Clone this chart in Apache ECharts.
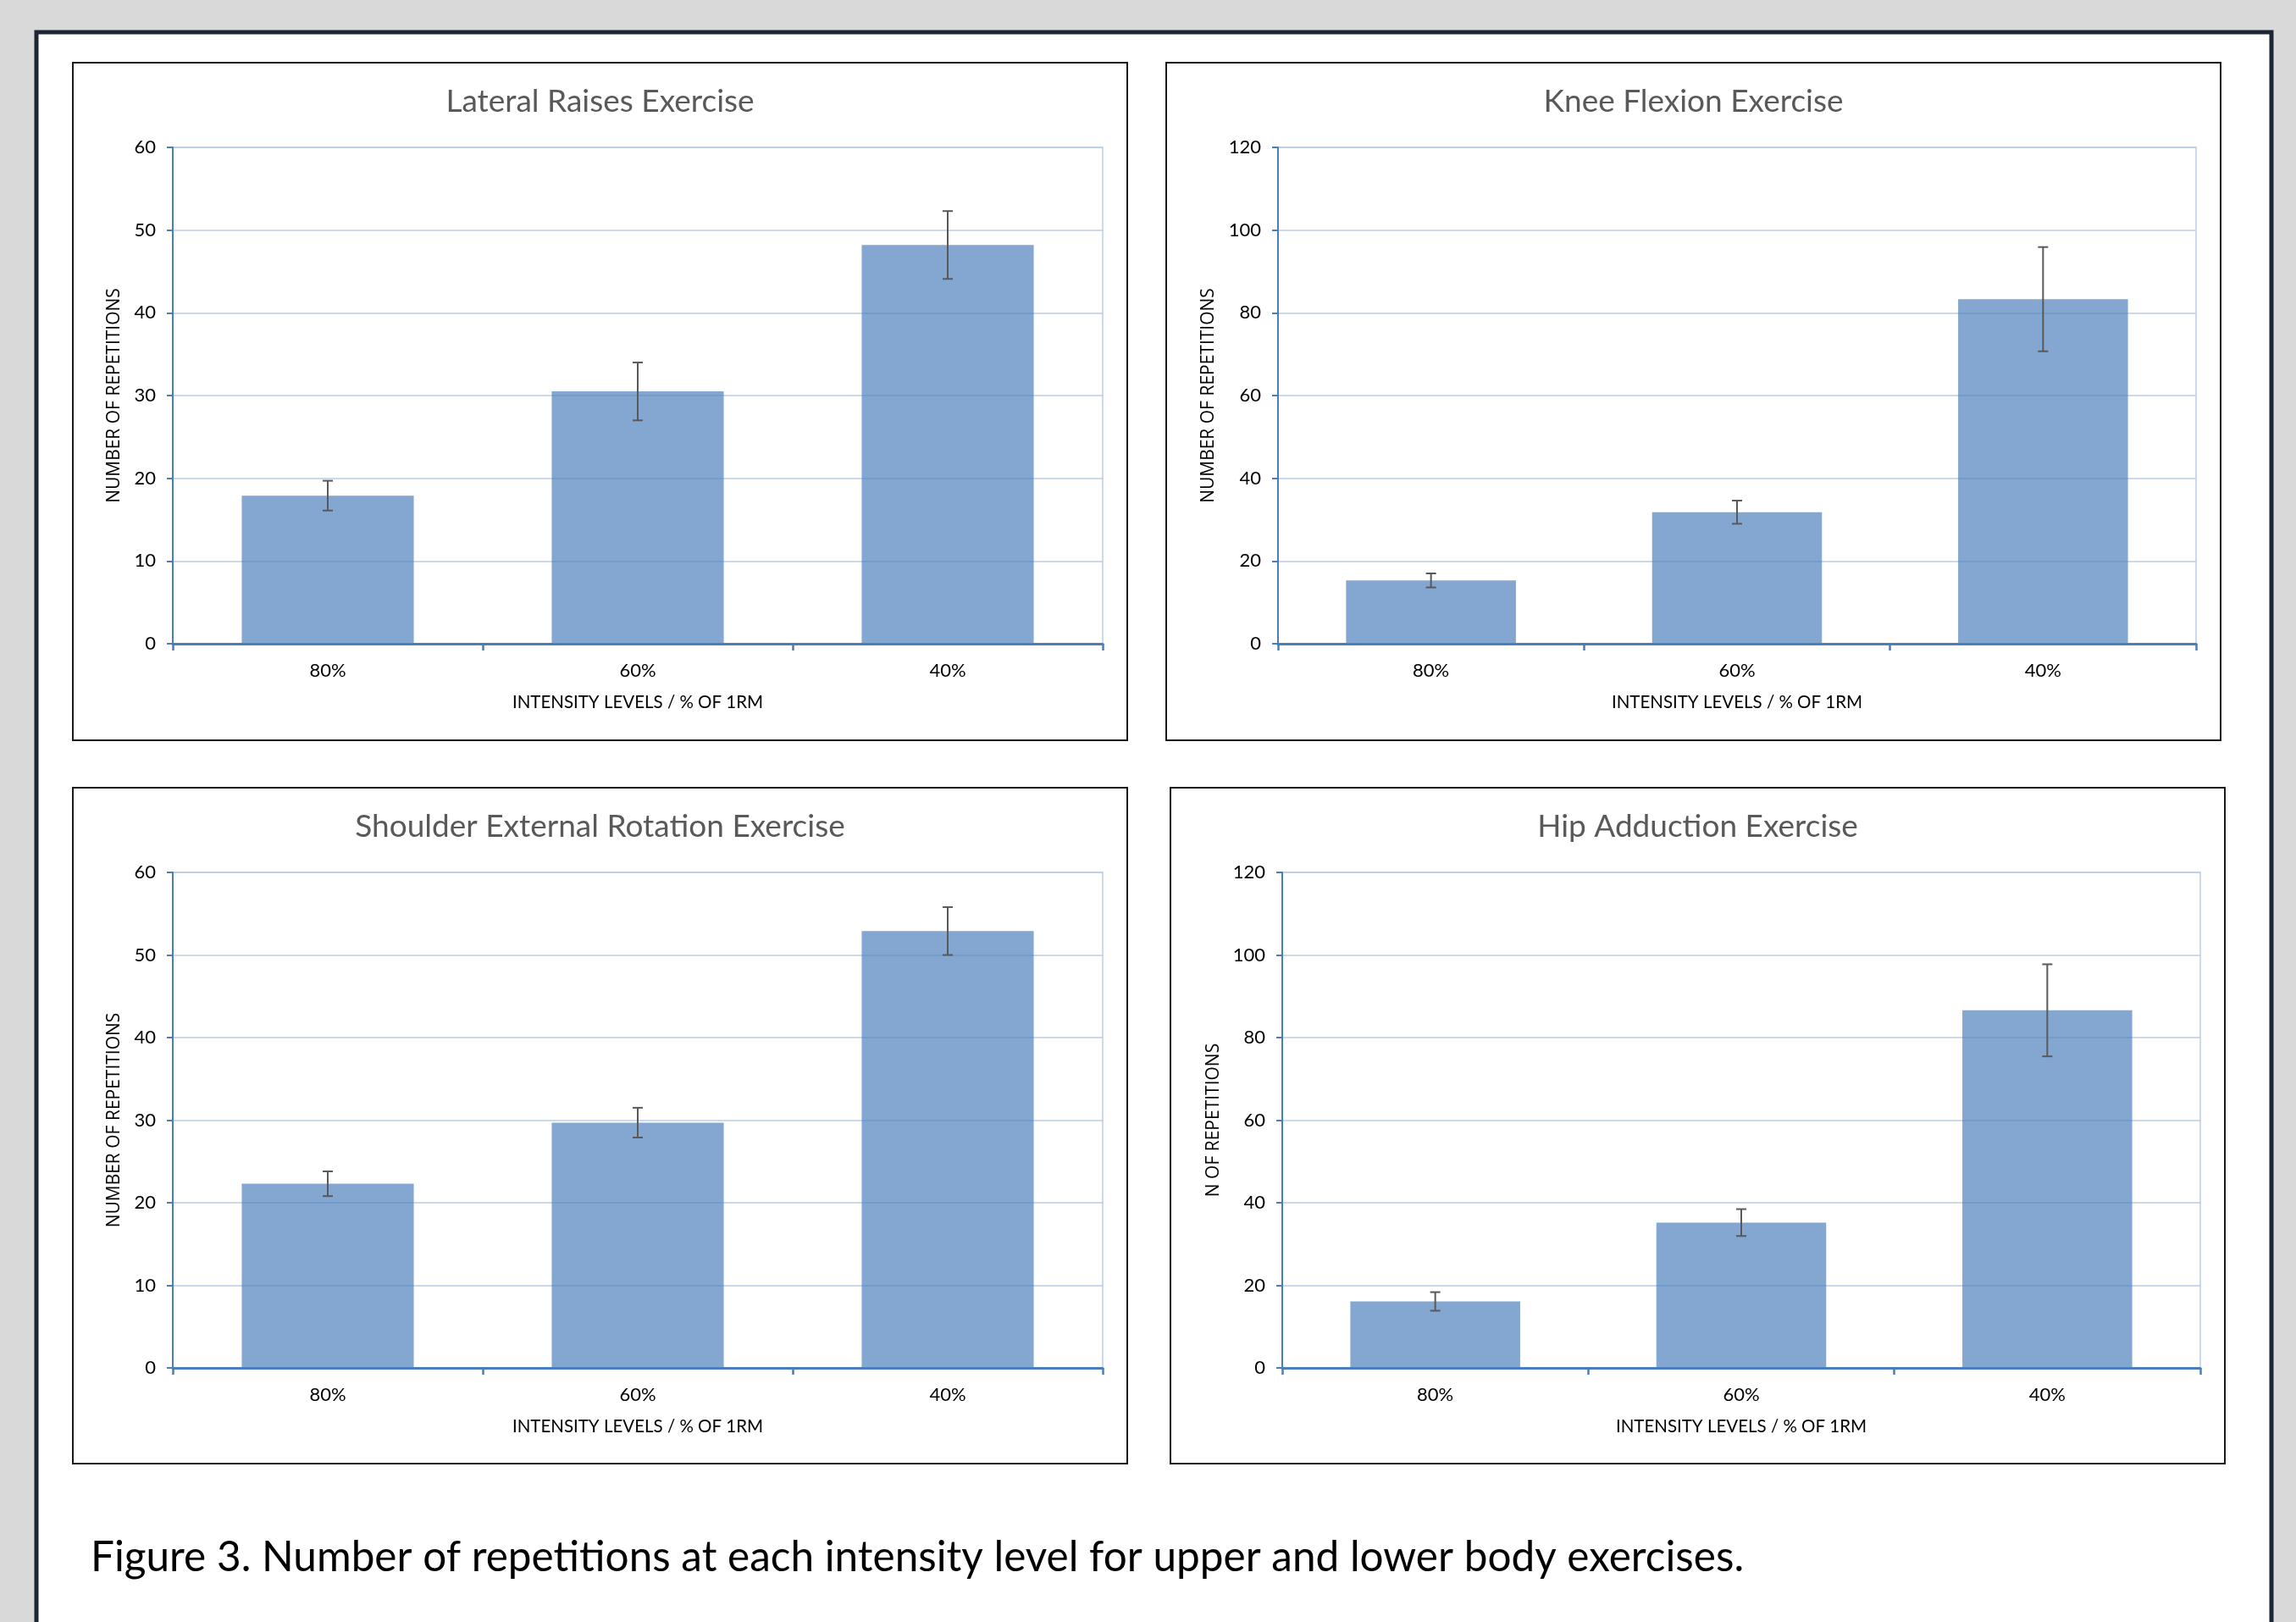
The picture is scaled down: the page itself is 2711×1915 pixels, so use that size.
<!DOCTYPE html>
<html>
<head>
<meta charset="utf-8">
<script src="https://cdn.jsdelivr.net/npm/echarts@6/dist/echarts.min.js"></script>
<style>
html,body{margin:0;padding:0;background:#d9d9d9;}
#c{width:2711px;height:1915px;}
</style>
</head>
<body>
<div id="c"></div>
<script>
// ---- data ----
const categories = ['80%', '60%', '40%'];
const titles = ['Lateral Raises Exercise', 'Knee Flexion Exercise', 'Shoulder External Rotation Exercise', 'Hip Adduction Exercise'];
const yNames = ['NUMBER OF REPETITIONS', 'NUMBER OF REPETITIONS', 'NUMBER OF REPETITIONS', 'N OF REPETITIONS'];
const xName = 'INTENSITY LEVELS / % OF 1RM';
const lateralMeans = [17.9, 30.5, 48.2];
const lateralErr = [1.8, 3.5, 4.1];
const kneeMeans = [15.3, 31.8, 83.3];
const kneeErr = [1.7, 2.8, 12.6];
const shoulderMeans = [22.3, 29.7, 52.9];
const shoulderErr = [1.5, 1.8, 2.9];
const hipMeans = [16.1, 35.2, 86.6];
const hipErr = [2.25, 3.25, 11.15];
const yMaxes = [60, 120, 60, 120];
const yIntervals = [10, 20, 10, 20];
const caption = 'Figure 3. Number of repetitions at each intensity level for upper and lower body exercises.';

const means = [lateralMeans, kneeMeans, shoulderMeans, hipMeans];
const errs = [lateralErr, kneeErr, shoulderErr, hipErr];

// ---- layout ----
const panels = [
  {x: 86, y: 74, w: 1245, h: 800},
  {x: 1377, y: 74, w: 1245, h: 800},
  {x: 86, y: 930, w: 1245, h: 798},
  {x: 1382, y: 930, w: 1245, h: 798}
];
const grids = [
  {left: 204, top: 174, width: 1098, height: 586},
  {left: 1509, top: 174, width: 1084, height: 586},
  {left: 204, top: 1030, width: 1098, height: 585},
  {left: 1514, top: 1030, width: 1084, height: 585}
];
const yNameGaps = [58, 71, 58, 70];
const titleCenters = [123, 123, 979, 979];

const FONT = 'Lato, "Open Sans", sans-serif';
const AXIS_BLUE = '#4a7ebb';

function errRender(params, api) {
  const x = api.value(0), lo = api.value(1), hi = api.value(2);
  const pHi = api.coord([x, hi]);
  const pLo = api.coord([x, lo]);
  const w = 6;
  const st = {stroke: '#595959', lineWidth: 2};
  return {type: 'group', children: [
    {type: 'line', shape: {x1: pHi[0], y1: pHi[1], x2: pLo[0], y2: pLo[1]}, style: st},
    {type: 'line', shape: {x1: pHi[0] - w, y1: pHi[1], x2: pHi[0] + w, y2: pHi[1]}, style: st},
    {type: 'line', shape: {x1: pLo[0] - w, y1: pLo[1], x2: pLo[0] + w, y2: pLo[1]}, style: st}
  ]};
}

const graphic = [
  {type: 'rect', z: -10, shape: {x: 43, y: 38, width: 2639, height: 1950},
   style: {fill: '#ffffff', stroke: '#1d2634', lineWidth: 5}}
];
panels.forEach(p => {
  graphic.push({type: 'rect', z: -9, shape: {x: p.x, y: p.y, width: p.w, height: p.h},
    style: {fill: '#ffffff', stroke: '#1a1a1a', lineWidth: 2}});
});

const title = [];
titles.forEach((t, i) => {
  const p = panels[i];
  title.push({text: t, left: p.x + p.w / 2, top: titleCenters[i] - 21, textAlign: 'center', padding: 0,
    textStyle: {fontFamily: FONT, fontSize: 37, fontWeight: 'normal', color: '#595959'}});
});
title.push({text: caption, left: 107, top: 1814, padding: 0,
  textStyle: {fontFamily: FONT, fontSize: 49.5, fontWeight: 'normal', color: '#000000'}});

const xAxis = [], yAxis = [], series = [];
grids.forEach((g, i) => {
  xAxis.push({
    type: 'category', gridIndex: i, data: categories,
    name: xName, nameLocation: 'middle', nameGap: 59,
    nameTextStyle: {fontFamily: FONT, fontSize: 20.5, color: '#000'},
    axisLine: {lineStyle: {color: AXIS_BLUE, width: 3}},
    axisTick: {show: true, length: 8, lineStyle: {color: AXIS_BLUE, width: 2.5}},
    axisLabel: {margin: 21, fontFamily: FONT, fontSize: 22, color: '#000'},
    splitLine: {show: false}
  });
  yAxis.push({
    type: 'value', gridIndex: i, min: 0, max: yMaxes[i], interval: yIntervals[i],
    name: yNames[i], nameLocation: 'middle', nameGap: yNameGaps[i], nameRotate: 90,
    nameTextStyle: {fontFamily: '"Open Sans", sans-serif', fontSize: 21, color: '#000'},
    axisLine: {show: true, lineStyle: {color: AXIS_BLUE, width: 2}},
    axisTick: {show: true, length: 7, lineStyle: {color: AXIS_BLUE, width: 2}},
    axisLabel: {margin: 20, fontFamily: FONT, fontSize: 22, color: '#000'},
    splitLine: {show: true, lineStyle: {color: '#b9cde5', width: 1.5}}
  });
  series.push({
    type: 'bar', xAxisIndex: i, yAxisIndex: i, data: means[i], barWidth: '55.5%',
    itemStyle: {color: 'rgba(79,129,189,0.7)'}, silent: true
  });
  series.push({
    type: 'custom', xAxisIndex: i, yAxisIndex: i, renderItem: errRender, z: 5, silent: true,
    encode: {x: 0, y: [1, 2]},
    data: means[i].map((m, k) => [k, m - errs[i][k], m + errs[i][k]])
  });
});

const chart = echarts.init(document.getElementById('c'), null, {renderer: 'canvas'});
chart.setOption({
  animation: false,
  backgroundColor: '#d9d9d9',
  graphic: graphic,
  title: title,
  grid: grids.map(g => Object.assign({show: true, borderColor: '#b9cde5', borderWidth: 1.5, backgroundColor: 'transparent', containLabel: false}, g)),
  xAxis: xAxis,
  yAxis: yAxis,
  series: series
});
</script>
</body>
</html>
